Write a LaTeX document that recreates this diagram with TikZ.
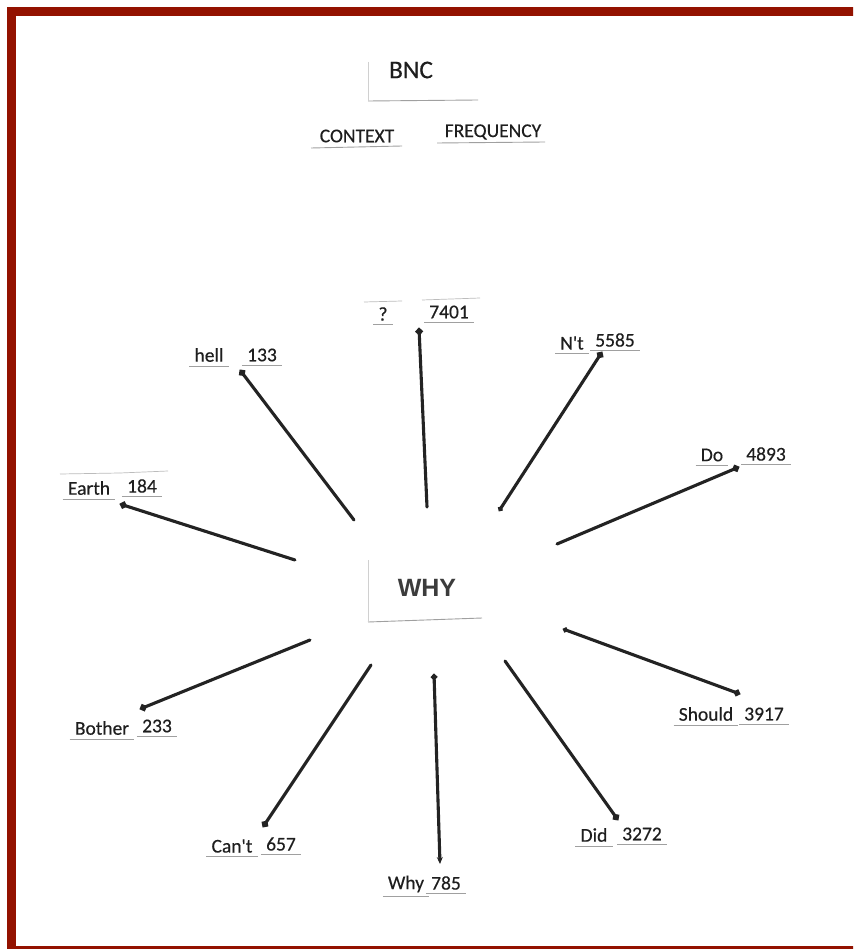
\documentclass[tikz,border=0pt]{standalone}
\usepackage{fontspec}
\newfontfamily\carl{Carlito}[FakeBold=0.35]
\newfontfamily\whyfont{Liberation Sans}
\usetikzlibrary{arrows.meta}
\definecolor{framered}{RGB}{147,18,0}
\definecolor{ink}{RGB}{35,35,35}
\definecolor{txt}{RGB}{30,30,30}
\definecolor{edgegray}{RGB}{160,160,160}
\definecolor{whygray}{RGB}{60,60,60}
\begin{document}
\begin{tikzpicture}[x=1pt,y=-1pt,
 slipedge/.style={draw=edgegray, line width=0.9pt},
 slip/.style={font=\carl\fontsize{19.5}{22}\selectfont, text=txt, inner xsep=5pt, inner ysep=4pt,
   append after command={(\tikzlastnode.south west) edge[slipedge] (\tikzlastnode.south east)}},
 heading/.style={font=\carl\fontsize{19.5}{22}\selectfont, text=txt},
 spoke/.style={draw=ink, line width=3.1pt, line cap=round},
 outdot/.style={{Circle[length=7pt]}-},
]
\fill[white] (0,0) rectangle (853,949);
\useasboundingbox (0,0) rectangle (853,949);
\begin{scope}
\clip (0,0) rectangle (853,949);
\draw[framered, line width=8.5pt] (11.5,11.5) rectangle (870,950.3);
\end{scope}

% title block
\node[font=\carl\fontsize{25.5}{30}\selectfont, text=txt] (bnc) at (411,70) {BNC};
\draw[slipedge] (368,101) -- (478,100);
\draw[edgegray!50, line width=0.6pt] (368,62) -- (368,101);
\node[heading] (context) at (357,136) {CONTEXT};
\draw[slipedge] (311,148) -- (402,146);
\node[heading] (frequency) at (493,132) {FREQUENCY};
\draw[slipedge] (437,143) -- (545,142);

% hub
\node[font=\whyfont\bfseries\fontsize{25}{30}\selectfont, text=whygray] (why) at (427,588) {WHY};
\draw[slipedge] (368,622) -- (482,618);
\draw[edgegray!50, line width=0.6pt] (368,560) -- (368,622);

% labels
\node[slip] (wq) at (383,314) {?};
\node[slip] (nq) at (449,312) {7401};
\node[slip] (wh) at (209,355) {hell};
\node[slip] (nh) at (262,355) {133};
\node[slip] (wn) at (572,343) {N't};
\node[slip] (nn) at (615,340) {5585};
\node[slip] (wd) at (712,455) {Do};
\node[slip] (nd) at (766,454) {4893};
\node[slip] (we) at (89,488) {Earth};
\node[slip] (ne) at (142,486) {184};
\node[slip] (wb) at (102,728) {Bother};
\node[slip] (nb) at (157,726) {233};
\node[slip] (ws) at (706,714) {Should};
\node[slip] (ns) at (764,714) {3917};
\node[slip] (wc) at (232,846) {Can't};
\node[slip] (nc) at (281,844) {657};
\node[slip] (ww) at (406,884) {Why};
\node[slip] (nw) at (446,883) {785};
\node[slip] (wi) at (594,835) {Did};
\node[slip] (ni) at (642,834) {3272};

% faint upper slip edges
\draw[edgegray!70, line width=0.7pt] (364,302) -- (402,301);
\draw[edgegray!70, line width=0.7pt] (422,300) -- (480,298);
\draw[edgegray!70, line width=0.7pt] (60,474) -- (120,473);
\draw[edgegray!70, line width=0.7pt] (120,473) -- (168,471);

% spoke end points
\coordinate (qo) at (419,328);  \coordinate (qi) at (427,507);
\coordinate (ho) at (240,370);  \coordinate (hi) at (354,520);
\coordinate (no) at (602,352);  \coordinate (ni2) at (499,511);
\coordinate (do) at (739,467);  \coordinate (di) at (557,544);
\coordinate (eo) at (120,504);  \coordinate (ei) at (295,560);
\coordinate (bo) at (140,709);  \coordinate (bi) at (310,640);
\coordinate (co) at (263,827);  \coordinate (ci) at (371,665);
\coordinate (wo) at (440,864);  \coordinate (wi2) at (434,674);
\coordinate (io) at (618,820);  \coordinate (ii) at (505,661);
\coordinate (so) at (740,694);  \coordinate (si) at (563,629);

\draw[spoke, outdot] (qo) -- (qi);
\draw[spoke, outdot] (ho) -- (hi);
\draw[spoke, {Circle[length=7pt]}-{Circle[length=5pt]}] (no) -- (ni2);
\draw[spoke, outdot] (do) -- (di);
\draw[spoke, outdot] (eo) -- (ei);
\draw[spoke, outdot] (bo) -- (bi);
\draw[spoke, outdot] (co) -- (ci);
\draw[spoke, {Circle[length=6pt]}-{Stealth[length=7pt,width=6pt]}] (wi2) -- (wo);
\draw[spoke, outdot] (io) -- (ii);
\draw[spoke, {Circle[length=6.5pt]}-{Circle[length=5pt]}] (so) -- (si);
\end{tikzpicture}
\end{document}
